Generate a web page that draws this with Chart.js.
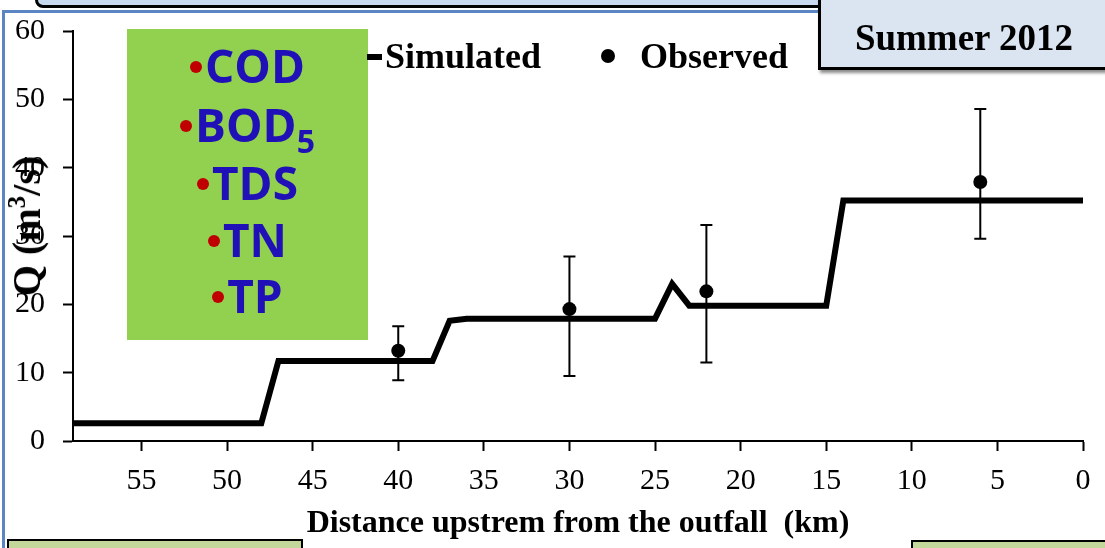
<!DOCTYPE html>
<html><head><meta charset="utf-8">
<script src="https://cdn.jsdelivr.net/npm/chart.js@4.4.0/dist/chart.umd.min.js"></script>
<style>
html,body{margin:0;padding:0;background:#fff;overflow:hidden;width:1105px;height:548px;}
#wrap{position:relative;width:1105px;height:548px;overflow:hidden;}
.abs{position:absolute;}
#frame{left:2px;top:10px;width:1200px;height:700px;border:3px solid #5b86c3;box-sizing:border-box;}
#topbar{left:35px;top:-25px;width:868px;height:33px;background:#c6d9ef;border:3px solid #000;border-radius:8px;box-sizing:border-box;}
#topbar2{left:898px;top:-25px;width:300px;height:31px;background:#eeecda;border:3px solid #000;border-radius:8px;box-sizing:border-box;}
canvas{position:absolute;left:0;top:0;}
#green{left:127px;top:29px;width:241px;height:311px;background:#92d050;}
.pl{position:absolute;left:127px;width:241px;text-align:center;font-family:'Open Sans',sans-serif;font-weight:700;font-size:46px;line-height:46px;color:#2010b8;white-space:nowrap;}
.dot{display:inline-block;width:12px;height:12px;border-radius:50%;background:#c00000;vertical-align:10px;margin-right:3px;}
.sub{font-size:32px;position:relative;top:11px;}
.serif{font-family:'Liberation Serif','Times New Roman',serif;font-weight:700;color:#000;white-space:nowrap;}
#simline{left:367px;top:54px;width:15px;height:6px;background:#000;}
#simtxt{left:385px;top:38px;font-size:36px;line-height:36px;}
#obsdot{left:601px;top:49px;width:14px;height:14px;border-radius:50%;background:#000;}
#obstxt{left:640px;top:38px;font-size:36px;line-height:36px;}
#summerbox{left:818px;top:-10px;width:300px;height:80px;background:#dbe5f1;border:3px solid #000;box-sizing:border-box;box-shadow:2px 3px 3px rgba(0,0,0,0.45);}
#summertxt{left:818px;width:292px;top:19px;text-align:center;font-size:37px;line-height:37px;}
#ytitle{left:27px;top:226px;transform:translate(-50%,-50%) rotate(-90deg);font-size:40px;line-height:40px;}
#ytitle sup{font-size:25px;vertical-align:15px;line-height:0;}
#bl{left:7px;top:539px;width:296px;height:40px;background:#c4d79b;border:2px solid #000;box-sizing:border-box;}
#br{left:911px;top:540px;width:250px;height:40px;background:#c4d79b;border:2px solid #000;box-sizing:border-box;}
</style>
</head><body>
<div id="wrap">
  <div id="frame" class="abs"></div>
  <div id="topbar" class="abs"></div>
  <div id="topbar2" class="abs"></div>
  <canvas id="c" width="1105" height="548"></canvas>
  <div id="green" class="abs"></div>
  <div class="pl" style="top:42px"><span class="dot"></span>COD</div>
  <div class="pl" style="top:101px"><span class="dot"></span>BOD<span class="sub">5</span></div>
  <div class="pl" style="top:159px"><span class="dot"></span>TDS</div>
  <div class="pl" style="top:216px"><span class="dot"></span>TN</div>
  <div class="pl" style="top:272px"><span class="dot"></span>TP</div>
  <div id="simline" class="abs"></div>
  <div id="simtxt" class="abs serif">Simulated</div>
  <div id="obsdot" class="abs"></div>
  <div id="obstxt" class="abs serif">Observed</div>
  <div id="summerbox" class="abs"></div>
  <div id="summertxt" class="abs serif">Summer 2012</div>
  <div id="ytitle" class="abs serif">Q (m<sup>3</sup>/s)</div>
  <div id="bl" class="abs"></div>
  <div id="br" class="abs"></div>
</div>
<script>
// Simulated discharge profile (distance upstream km, Q m3/s)
const simKm = [59, 48, 47, 38, 37, 36, 25, 24, 23, 15, 14, 0];
const simQ  = [2.6, 2.6, 11.7, 11.7, 17.6, 17.9, 17.9, 23.0, 19.8, 19.8, 35.2, 35.2];
// Observed discharge with error range
const obsKm   = [40, 30, 22, 6];
const obsQ    = [13.2, 19.3, 21.9, 37.9];
const obsLow  = [8.9, 9.5, 11.5, 29.6];
const obsHigh = [16.8, 27.0, 31.6, 48.6];
// Tick labels
const xTicks = [55, 50, 45, 40, 35, 30, 25, 20, 15, 10, 5, 0];
const yTicks = [0, 10, 20, 30, 40, 50, 60];

const SERIF = "'Liberation Serif','Times New Roman',serif";

const errPlugin = {
  id: 'errbars',
  afterDatasetsDraw(chart) {
    const ctx = chart.ctx, xs = chart.scales.x, ys = chart.scales.y;
    ctx.save();
    ctx.strokeStyle = '#000';
    ctx.lineWidth = 2;
    obsKm.forEach((k, i) => {
      const px = xs.getPixelForValue(k);
      const t = ys.getPixelForValue(obsHigh[i]);
      const b = ys.getPixelForValue(obsLow[i]);
      ctx.beginPath();
      ctx.moveTo(px, t); ctx.lineTo(px, b);
      ctx.moveTo(px - 6, t); ctx.lineTo(px + 6, t);
      ctx.moveTo(px - 6, b); ctx.lineTo(px + 6, b);
      ctx.stroke();
    });
    ctx.restore();
  }
};

new Chart(document.getElementById('c'), {
  type: 'scatter',
  data: {
    datasets: [
      {
        label: 'Observed',
        data: obsKm.map((k, i) => ({x: k, y: obsQ[i]})),
        pointRadius: 7,
        pointBackgroundColor: '#000',
        pointBorderWidth: 0,
        showLine: false,
        clip: false
      },
      {
        label: 'Simulated',
        data: simKm.map((k, i) => ({x: k, y: simQ[i]})),
        showLine: true,
        borderColor: '#000',
        borderWidth: 6,
        borderJoinStyle: 'miter',
        borderCapStyle: 'butt',
        pointRadius: 0,
        tension: 0,
        clip: false
      }
    ]
  },
  options: {
    responsive: false,
    animation: false,
    devicePixelRatio: 1,
    layout: {padding: {left: 0, right: 22, top: 31, bottom: 0}},
    plugins: {legend: {display: false}, tooltip: {enabled: false}},
    scales: {
      x: {
        type: 'linear', reverse: true, min: 0, max: 59,
        afterBuildTicks: s => { s.ticks = xTicks.map(v => ({value: v})); },
        afterFit: s => { s.height = 107; s.paddingLeft = 0; s.paddingRight = 0; },
        border: {display: true, color: '#000', width: 2},
        grid: {display: true, drawOnChartArea: false, drawTicks: true, tickLength: 10, tickColor: '#000', tickWidth: 2},
        ticks: {color: '#000', font: {family: SERIF, size: 30}, padding: 12, maxRotation: 0, autoSkip: false},
        title: {display: true, text: 'Distance upstrem from the outfall  (km)', color: '#000',
                font: {family: SERIF, size: 32, weight: 'bold'}, padding: {top: 0, bottom: 5}}
      },
      y: {
        type: 'linear', min: 0, max: 60,
        afterBuildTicks: s => { s.ticks = yTicks.map(v => ({value: v})); },
        afterFit: s => { s.width = 73; s.paddingTop = 0; s.paddingBottom = 0; },
        border: {display: true, color: '#000', width: 2},
        grid: {display: true, drawOnChartArea: false, drawTicks: true, tickLength: 10, tickColor: '#000', tickWidth: 2},
        ticks: {color: '#000', font: {family: SERIF, size: 30}, padding: 18}
      }
    }
  },
  plugins: [errPlugin]
});
</script>
</body></html>
